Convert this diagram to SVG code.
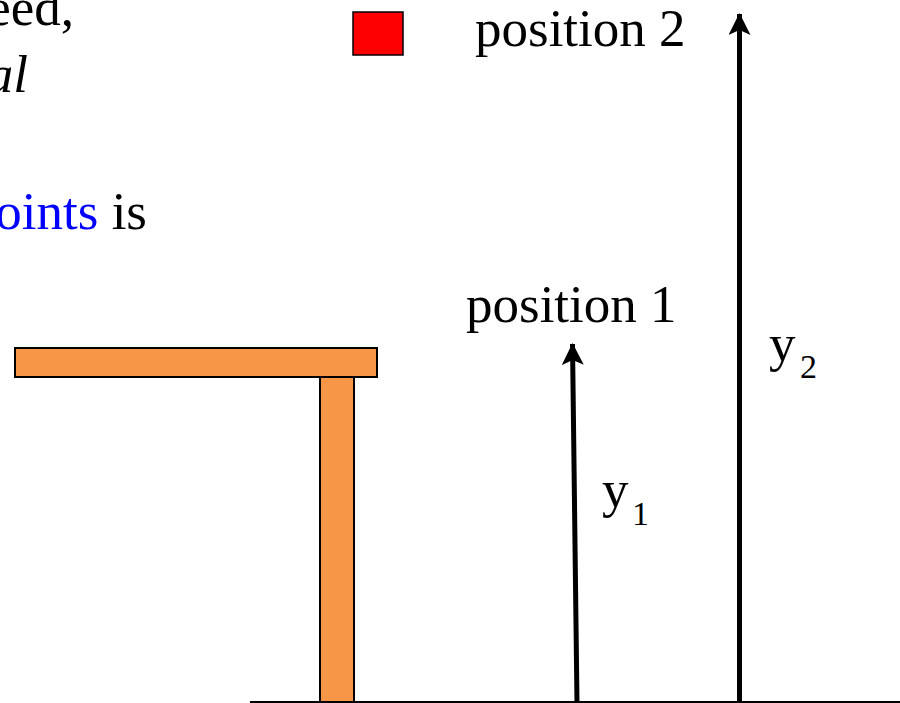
<svg xmlns="http://www.w3.org/2000/svg" width="900" height="703" viewBox="0 0 900 703">
<defs>
<style>
.t{font-size:53px;fill:#000}
.sub{font-size:34px;fill:#000}
.wood{fill:#F79646;stroke:#000;stroke-width:2}
.arrow{stroke:#000;stroke-width:5;fill:none}
</style>
<marker id="ah" viewBox="0 0 22 22" refX="21" refY="11" markerWidth="22" markerHeight="22" markerUnits="userSpaceOnUse" orient="auto">
<path d="M22,11 L0,0 L5,11 L0,22 Z" fill="#000"/>
</marker>
</defs>
<rect width="900" height="703" fill="#fff"/>
<g font-family="'Liberation Serif', 'Times New Roman', serif">
<g id="text-top">
<text class="t" x="74" y="25" text-anchor="end">eed,</text>
<text class="t" x="28" y="92" text-anchor="end" font-style="italic">al</text>
<text class="t" x="147" y="229" text-anchor="end"><tspan fill="#0000FF">oints</tspan> is</text>
</g>
<g id="marker-square">
<rect x="353" y="12" width="50" height="43" fill="#FF0000" stroke="#000" stroke-width="1.5"/>
</g>
<g id="label-position2"><text class="t" x="475" y="46">position 2</text></g>
<g id="label-position1"><text class="t" x="466" y="322">position 1</text></g>
<g id="table">
<rect class="wood" x="15" y="348" width="362" height="29"/>
<rect class="wood" x="320" y="377" width="34" height="328"/>
</g>
<g id="ground"><line x1="250" y1="702" x2="900" y2="702" stroke="#000" stroke-width="2"/></g>
<g id="connectors">
<line class="arrow" x1="577" y1="703" x2="572.5" y2="344" marker-end="url(#ah)"/>
<line class="arrow" x1="739.5" y1="703" x2="739.5" y2="14" marker-end="url(#ah)"/>
</g>
<g id="label-y1"><text class="t" x="602" y="507">y</text><text class="sub" x="632" y="525">1</text></g>
<g id="label-y2"><text class="t" x="769" y="361">y</text><text class="sub" x="800" y="378">2</text></g>
</g>
</svg>
